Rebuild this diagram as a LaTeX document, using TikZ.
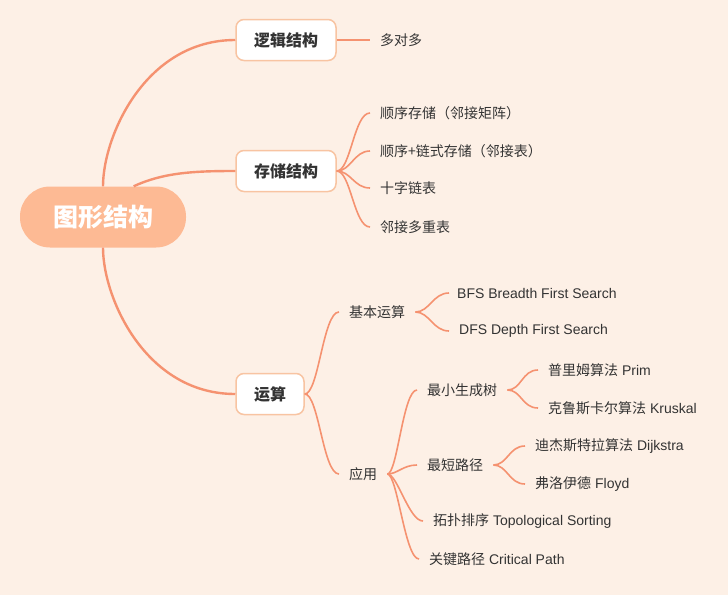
\documentclass[tikz,border=0pt]{standalone}
\usepackage{fontspec}
\setmainfont{Liberation Sans}
\newfontfamily\cjk{Noto Sans CJK SC}
\usetikzlibrary{positioning}
\definecolor{mapbg}{RGB}{253,240,230}
\definecolor{rootfill}{RGB}{253,186,148}
\definecolor{linkcol}{RGB}{245,146,112}
\definecolor{boxline}{RGB}{248,196,162}
\definecolor{inkcol}{RGB}{51,51,51}

\begin{document}
\begin{tikzpicture}[
    x=1pt, y=-1pt,
    root/.style={rectangle, rounded corners=30pt, minimum width=166pt, minimum height=61pt, fill=rootfill, text=white, font=\cjk\bfseries\fontsize{25}{28}\selectfont},
    topic/.style={rectangle, rounded corners=8pt, minimum height=41pt, draw=boxline, line width=1.5pt, fill=white, text=inkcol, font=\cjk\bfseries\fontsize{16}{18}\selectfont},
    leaf/.style={anchor=west, inner xsep=10pt, inner ysep=2pt, text=inkcol, font=\fontsize{14}{16}\selectfont},
    branch/.style={draw=linkcol, line width=2.4pt},
    twig/.style={draw=linkcol, line width=1.6pt}
]
    \fill[mapbg] (0,0) rectangle (728,595);
    % main topics
    \node[root] (graph) at (103,217) {图形结构};
    \node[topic, minimum width=100pt] (logic) at (286,40) {逻辑结构};
    \node[topic, minimum width=100pt] (store) at (286,171) {存储结构};
    \node[topic, minimum width=68pt] (ops) at (270,394) {运算};
    \draw[branch] (graph.north) .. controls +(0,-50) and +(-90,0) .. (logic.west);
    \draw[branch] (graph.45) .. controls +(30,-14) and +(-40,0) .. (store.west);
    \draw[branch] (graph.south) .. controls +(0,50) and +(-90,0) .. (ops.west);
    % logic
    \node[leaf] (many) at (370,40) {{\cjk 多对多}};
    \draw[twig] (logic.east) -- (many.west);
    % storage
    \node[leaf] (matrix) at (370,113) {{\cjk 顺序存储（邻接矩阵）}};
    \node[leaf] (adjlist) at (370,151) {{\cjk 顺序+链式存储（邻接表）}};
    \node[leaf] (cross) at (370,188) {{\cjk 十字链表}};
    \node[leaf] (multi) at (370,227) {{\cjk 邻接多重表}};
    \foreach \leafname in {matrix, adjlist, cross, multi}
        \draw[twig] (store.east) .. controls +(14,0) and +(-16,0) .. (\leafname.west);
    % operations
    \node[leaf] (basic) at (339,312) {{\cjk 基本运算}};
    \node[leaf] (apply) at (339,474) {{\cjk 应用}};
    \draw[twig] (ops.east) .. controls +(14,0) and +(-16,0) .. (basic.west);
    \draw[twig] (ops.east) .. controls +(14,0) and +(-16,0) .. (apply.west);
    \node[leaf] (bfs) at (447,293) {BFS Breadth First Search};
    \node[leaf] (dfs) at (449,331) {DFS Depth First Search};
    \draw[twig] (basic.east) .. controls +(14,0) and +(-16,0) .. ([xshift=2pt]bfs.west);
    \draw[twig] (basic.east) .. controls +(14,0) and +(-16,0) .. (dfs.west);
    % applications
    \node[leaf] (mst) at (417,390) {{\cjk 最小生成树}};
    \node[leaf] (short) at (417,465) {{\cjk 最短路径}};
    \node[leaf] (topo) at (423,521) {{\cjk 拓扑排序} Topological Sorting};
    \node[leaf] (crit) at (419,559) {{\cjk 关键路径} Critical Path};
    \foreach \leafname in {mst, short, topo, crit}
        \draw[twig] (apply.east) .. controls +(10,0) and +(-14,0) .. (\leafname.west);
    \node[leaf] (prim) at (538,370) {{\cjk 普里姆算法} Prim};
    \node[leaf] (kruskal) at (538,408) {{\cjk 克鲁斯卡尔算法} Kruskal};
    \draw[twig] (mst.east) .. controls +(14,0) and +(-16,0) .. (prim.west);
    \draw[twig] (mst.east) .. controls +(14,0) and +(-16,0) .. (kruskal.west);
    \node[leaf] (dijk) at (525,446) {{\cjk 迪杰斯特拉算法} Dijkstra};
    \node[leaf] (floyd) at (525,484) {{\cjk 弗洛伊德} Floyd};
    \draw[twig] (short.east) .. controls +(14,0) and +(-16,0) .. (dijk.west);
    \draw[twig] (short.east) .. controls +(14,0) and +(-16,0) .. (floyd.west);
\end{tikzpicture}
\end{document}
